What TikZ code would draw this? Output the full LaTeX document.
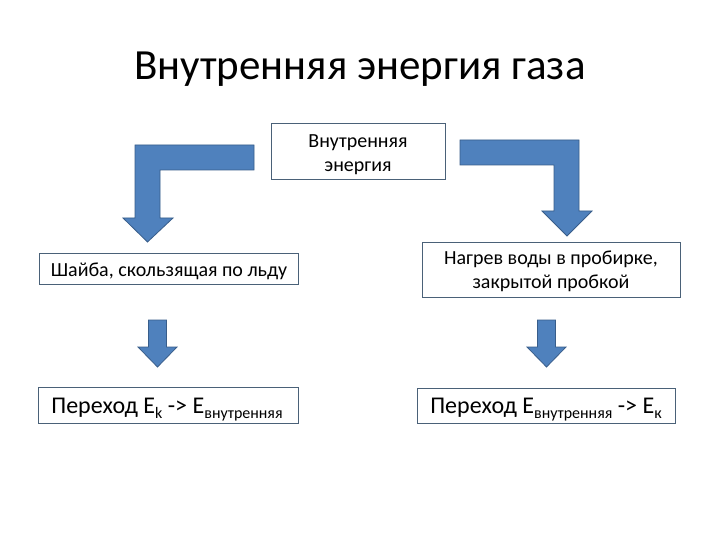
\documentclass[tikz,border=0pt]{standalone}
\usepackage{fontspec}
\setmainfont{Carlito}
\definecolor{arrowfill}{HTML}{4F81BD}
\definecolor{arrowline}{HTML}{385D8A}
\definecolor{boxline}{HTML}{4A6178}
\newcommand{\lowsub}[1]{\raisebox{-5bp}{\fontsize{16bp}{16bp}\selectfont #1}}
\tikzset{
  framebox/.style={draw=boxline, line width=0.8bp, fill=white, inner sep=0pt},
  boxtext/.style={inner sep=0pt, align=center, font=\fontsize{20bp}{23.5bp}\selectfont},
  bigtext/.style={inner sep=0pt, anchor=base, font=\fontsize{24bp}{28bp}\selectfont},
  blockarrow/.style={fill=arrowfill, draw=arrowline, line width=0.8bp, line join=miter}
}
\begin{document}
\begin{tikzpicture}[x=1bp,y=-1bp]
\useasboundingbox (0,0) rectangle (720,540);
\fill[white] (0,0) rectangle (720,540);
% title
\node[anchor=base, inner sep=0pt, font=\fontsize{43bp}{50bp}\selectfont] (title) at (360,80) {Внутренняя энергия газа};
% boxes
\node[framebox, minimum width=174bp, minimum height=56bp] (top) at (358,151) {};
\node[boxtext] (top-t) at ([yshift=-3.7bp]top.center) {Внутренняя\\энергия};
\node[framebox, minimum width=259bp, minimum height=31bp] (left) at (168.5,268.5) {};
\node[boxtext, anchor=base] (left-t) at (169,276.7) {Шайба, скользящая по льду};
\node[framebox, minimum width=258bp, minimum height=55bp] (right) at (551,269.5) {};
\node[boxtext] (right-t) at ([yshift=-1.8bp]right.center) {Нагрев воды в пробирке,\\закрытой пробкой};
\node[framebox, minimum width=260bp, minimum height=36bp] (bl) at (168,405) {};
\node[bigtext] (bl-t) at (167,413.3) {Переход E\lowsub{k} -> E\lowsub{внутренняя}};
\node[framebox, minimum width=258bp, minimum height=35bp] (br) at (546,405.5) {};
\node[bigtext] (br-t) at (546,413.3) {Переход E\lowsub{внутренняя} -> E\lowsub{к}};
% bent arrows
\draw[blockarrow] (254,145) -- (135,145) -- (135,218) -- (123,218) -- (147.5,242) -- (173,218) -- (160,218) -- (160,170) -- (254,170) -- cycle;
\draw[blockarrow] (460,140) -- (579,140) -- (579,211) -- (592,211) -- (567,236) -- (542,211) -- (554,211) -- (554,165) -- (460,165) -- cycle;
% small arrows
\draw[blockarrow] (148.5,320) -- (166.5,320) -- (166.5,347) -- (177,347) -- (157.5,367) -- (138,347) -- (148.5,347) -- cycle;
\draw[blockarrow] (537.5,320) -- (555.5,320) -- (555.5,347) -- (566,347) -- (546.5,367) -- (527,347) -- (537.5,347) -- cycle;
\end{tikzpicture}
\end{document}
